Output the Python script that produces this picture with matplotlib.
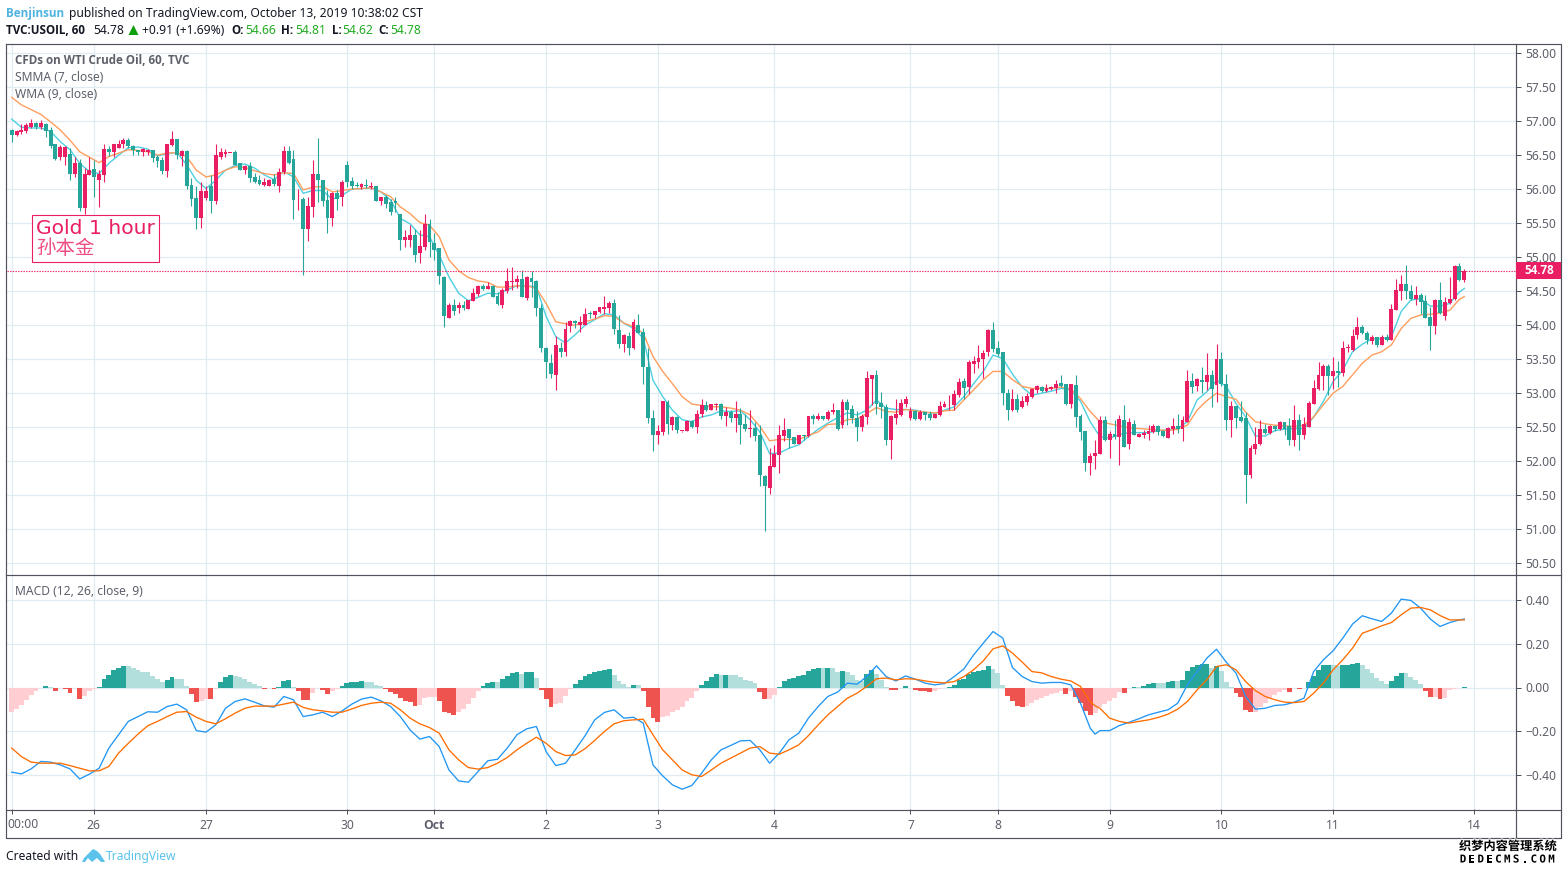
import matplotlib
matplotlib.use("Agg")
import matplotlib.pyplot as plt
import matplotlib.patheffects as pe
from matplotlib.patches import Rectangle, Polygon
import numpy as np

plt.rcParams['font.family'] = ['Noto Sans', 'Noto Sans CJK SC', 'DejaVu Sans']

highs = [56.88,56.86,56.95,56.97,57.02,56.98,57.01,56.96,56.91,56.66,
56.64,56.62,56.59,56.47,56.43,56.30,56.47,56.42,56.27,56.66,
56.63,56.66,56.72,56.74,56.74,56.64,56.57,56.59,56.58,56.56,
56.49,56.47,56.66,56.85,56.73,56.57,56.56,56.15,56.03,56.09,
56.03,56.20,56.65,56.59,56.58,56.52,56.56,56.37,56.34,56.39,
56.23,56.20,56.15,56.14,56.22,56.30,56.62,56.62,56.56,56.00,
55.88,55.88,56.42,56.75,56.13,55.98,55.95,55.98,56.12,56.40,
56.17,56.10,56.08,56.14,56.10,56.04,55.88,55.90,55.84,55.87,
55.63,55.39,55.46,55.41,55.39,55.63,55.55,55.34,55.13,54.71,
54.31,54.38,54.33,54.34,54.36,54.53,54.58,54.60,54.62,54.58,
54.48,54.53,54.83,54.85,54.73,54.80,54.71,54.79,54.65,54.30,
53.67,53.57,53.83,53.74,54.04,54.07,54.06,54.12,54.25,54.20,
54.20,54.25,54.42,54.34,54.38,54.14,53.86,53.89,54.08,54.15,
53.95,53.65,52.75,52.52,52.87,52.89,52.65,52.66,52.43,52.60,
52.59,52.74,52.90,52.87,52.83,52.85,52.84,52.78,52.74,52.87,
52.77,52.68,52.74,52.56,52.52,51.78,52.18,52.23,52.52,52.62,
52.47,52.35,52.38,52.37,52.65,52.69,52.70,52.66,52.74,52.84,
52.74,52.91,52.90,52.82,52.73,52.69,53.32,53.26,53.33,53.01,
52.83,52.67,52.90,52.91,52.95,52.78,52.74,52.74,52.72,52.73,
52.69,52.87,52.88,52.96,53.04,53.22,53.21,53.48,53.54,53.70,
53.63,53.94,54.03,53.76,53.60,53.05,53.05,52.98,52.95,52.99,
53.06,53.11,53.10,53.12,53.10,53.19,53.26,53.13,53.13,53.26,
52.69,52.43,52.11,52.30,52.65,52.65,52.44,52.59,52.67,52.82,
52.62,52.59,52.41,52.45,52.52,52.54,52.52,52.45,52.49,52.63,
52.68,52.65,53.33,53.29,53.21,53.38,53.58,53.33,53.72,53.59,
53.27,52.87,52.80,52.87,52.72,52.23,52.50,52.60,52.54,52.52,
52.52,52.58,52.57,52.62,52.82,52.68,52.64,52.88,53.19,53.45,
53.42,53.42,53.52,53.47,53.76,53.71,53.94,54.11,53.99,53.91,
53.85,53.82,53.85,53.86,54.30,54.67,54.73,54.87,54.58,54.56,
54.47,54.43,54.26,54.37,54.63,54.41,54.70,54.87,54.91,54.81]

body_tops = [56.86,56.85,56.86,56.93,56.97,56.97,56.97,56.95,56.86,56.65,
56.61,56.61,56.50,56.38,56.37,56.21,56.27,56.29,56.21,56.58,
56.58,56.66,56.66,56.71,56.71,56.63,56.56,56.58,56.57,56.56,
56.46,56.42,56.65,56.73,56.73,56.55,56.55,56.05,55.86,55.97,
55.97,56.04,56.49,56.53,56.53,56.52,56.53,56.37,56.33,56.33,
56.17,56.12,56.09,56.13,56.14,56.24,56.55,56.55,56.43,55.85,
55.85,55.74,56.21,56.21,56.13,55.83,55.94,55.94,56.09,56.34,
56.11,56.05,56.06,56.05,56.04,56.04,55.87,55.87,55.80,55.82,
55.63,55.29,55.32,55.32,55.15,55.48,55.48,55.20,55.13,54.70,
54.29,54.28,54.28,54.28,54.36,54.46,54.57,54.57,54.57,54.57,
54.42,54.51,54.64,54.64,54.67,54.67,54.70,54.69,54.64,54.24,
53.66,53.43,53.70,53.66,53.94,54.05,54.05,54.04,54.16,54.17,
54.20,54.25,54.26,54.32,54.32,53.92,53.84,53.83,54.04,54.00,
53.89,53.38,52.63,52.43,52.87,52.86,52.64,52.64,52.43,52.58,
52.58,52.69,52.82,52.82,52.83,52.83,52.83,52.71,52.71,52.69,
52.69,52.54,52.47,52.48,52.37,51.77,51.92,52.10,52.38,52.45,
52.47,52.34,52.37,52.37,52.65,52.65,52.65,52.65,52.72,52.74,
52.74,52.86,52.86,52.76,52.63,52.65,53.21,53.26,53.26,52.85,
52.79,52.65,52.68,52.85,52.90,52.73,52.73,52.71,52.71,52.68,
52.68,52.80,52.83,52.82,52.98,53.15,53.17,53.45,53.46,53.50,
53.58,53.92,53.92,53.65,53.59,53.00,52.90,52.90,52.87,52.95,
53.05,53.09,53.08,53.07,53.08,53.13,53.14,53.13,53.12,53.11,
52.65,52.43,52.07,52.11,52.59,52.60,52.39,52.39,52.61,52.59,
52.57,52.54,52.39,52.40,52.44,52.51,52.51,52.43,52.48,52.51,
52.51,52.59,53.17,53.17,53.20,53.19,53.26,53.26,53.49,53.49,
53.12,52.80,52.80,52.64,52.63,52.19,52.24,52.47,52.47,52.50,
52.51,52.56,52.56,52.50,52.60,52.60,52.54,52.84,53.06,53.26,
53.39,53.39,53.32,53.32,53.65,53.65,53.83,53.96,53.96,53.88,
53.81,53.81,53.81,53.81,54.23,54.51,54.60,54.60,54.50,54.43,
54.43,54.35,54.11,54.36,54.36,54.33,54.38,54.86,54.86,54.78]

body_bottoms = [56.79,56.79,56.83,56.85,56.90,56.90,56.90,56.85,56.62,56.43,
56.46,56.47,56.21,56.21,55.72,55.72,56.20,56.17,56.13,56.20,
56.53,56.54,56.60,56.65,56.62,56.56,56.54,56.54,56.54,56.45,
56.40,56.26,56.26,56.64,56.49,56.48,56.04,55.85,55.57,55.57,
55.86,55.82,55.82,56.47,56.51,56.52,56.35,56.27,56.27,56.16,
56.10,56.06,56.05,56.04,56.06,56.04,56.24,56.37,55.83,55.84,
55.41,55.41,55.73,56.13,55.81,55.57,55.57,55.85,55.88,56.10,
56.04,56.03,56.02,56.03,56.02,55.82,55.82,55.77,55.66,55.78,
55.24,55.24,55.24,55.02,55.05,55.14,55.21,55.10,54.71,54.12,
54.10,54.20,54.24,54.25,54.23,54.35,54.45,54.52,54.52,54.41,
54.30,54.29,54.50,54.63,54.63,54.41,54.39,54.63,54.25,53.66,
53.45,53.27,53.26,53.59,53.59,53.98,54.02,54.00,53.99,54.16,
54.14,54.18,54.23,54.24,53.93,53.72,53.72,53.65,53.65,53.88,
53.38,52.63,52.38,52.38,52.42,52.53,52.52,52.45,52.43,52.44,
52.50,52.50,52.68,52.74,52.74,52.81,52.65,52.65,52.63,52.63,
52.52,52.47,52.46,52.36,51.78,51.63,51.59,51.91,52.08,52.36,
52.33,52.25,52.25,52.36,52.36,52.61,52.61,52.61,52.61,52.71,
52.46,52.52,52.74,52.63,52.49,52.50,52.64,53.20,52.83,52.78,
52.30,52.30,52.63,52.67,52.83,52.62,52.61,52.61,52.67,52.63,
52.62,52.67,52.79,52.81,52.81,52.96,53.07,53.08,53.42,53.45,
53.49,53.59,53.64,53.57,53.00,52.74,52.74,52.74,52.78,52.86,
52.93,53.04,53.02,53.02,53.05,53.06,53.10,52.83,52.83,52.64,
52.42,51.97,51.97,52.06,52.10,52.30,52.30,52.34,52.35,52.20,
52.24,52.38,52.35,52.38,52.39,52.42,52.42,52.36,52.33,52.46,
52.47,52.47,52.57,53.08,53.09,53.15,53.15,53.05,53.11,53.12,
52.59,52.59,52.63,52.58,51.78,51.78,52.17,52.24,52.41,52.41,
52.46,52.46,52.47,52.30,52.30,52.37,52.37,52.50,52.83,53.05,
53.24,53.24,53.24,53.29,53.28,53.65,53.62,53.85,53.87,53.77,
53.76,53.70,53.70,53.77,53.77,54.22,54.49,54.50,54.37,54.37,
54.33,54.10,53.98,53.98,54.17,54.13,54.31,54.37,54.65,54.66]

lows = [56.69,56.77,56.80,56.82,56.89,56.88,56.88,56.76,56.59,56.42,
56.42,56.35,56.13,56.17,55.67,55.63,56.20,55.88,55.73,56.10,
56.48,56.47,56.59,56.59,56.59,56.49,56.49,56.48,56.50,56.39,
56.32,56.21,56.17,56.62,56.44,56.33,56.00,55.74,55.41,55.42,
55.83,55.64,55.77,56.43,56.46,56.52,56.34,56.27,56.22,56.10,
56.08,56.05,56.04,56.03,56.03,55.95,56.22,56.36,55.55,55.68,
54.73,55.23,55.58,55.80,55.74,55.34,55.45,55.68,55.74,56.02,
56.00,56.02,55.99,56.01,56.00,55.82,55.76,55.71,55.61,55.65,
55.10,55.14,55.14,54.92,54.91,55.09,55.00,54.95,54.60,53.96,
54.10,54.14,54.17,54.22,54.23,54.34,54.42,54.51,54.52,54.40,
54.29,54.25,54.47,54.51,54.53,54.40,54.36,54.40,54.12,53.59,
53.21,53.21,53.03,53.52,53.54,53.89,53.95,53.89,53.99,54.10,
54.10,54.17,54.16,54.17,53.86,53.65,53.60,53.55,53.64,53.87,
53.12,52.55,52.14,52.24,52.38,52.39,52.45,52.40,52.42,52.43,
52.48,52.41,52.64,52.73,52.74,52.75,52.61,52.51,52.56,52.42,
52.24,52.43,52.34,52.28,51.63,50.97,51.51,51.91,51.82,52.29,
52.18,52.24,52.25,52.30,52.34,52.54,52.60,52.60,52.60,52.68,
52.45,52.48,52.52,52.55,52.28,52.43,52.54,52.82,52.68,52.63,
52.23,52.02,52.54,52.66,52.79,52.60,52.60,52.60,52.60,52.59,
52.62,52.65,52.78,52.74,52.74,52.94,52.91,52.98,53.28,53.36,
53.21,53.53,53.60,53.53,52.82,52.60,52.73,52.72,52.77,52.82,
52.92,52.99,53.01,53.01,53.03,52.99,53.08,52.82,52.77,52.50,
52.30,51.84,51.79,51.88,52.10,52.29,52.04,52.31,51.93,52.20,
52.17,52.37,52.35,52.33,52.30,52.41,52.37,52.35,52.33,52.39,
52.40,52.29,52.57,52.99,53.02,52.99,53.04,52.79,52.86,53.09,
52.45,52.35,52.48,52.56,51.38,51.74,52.10,52.23,52.39,52.39,
52.44,52.45,52.38,52.23,52.21,52.15,52.32,52.49,52.83,53.04,
53.04,52.96,53.05,53.08,53.24,53.60,53.61,53.79,53.86,53.72,
53.72,53.67,53.70,53.76,53.77,54.21,54.36,54.37,54.36,54.29,
54.15,54.09,53.63,53.86,54.15,54.07,54.30,54.36,54.64,54.62]

# T = falling bar, P = rising bar
direction = ("TPPPPTPTTT" "PPTPTPPTPP" "TPPPTTTPPT" "TTPPTPTTTP" "PTPPPPTTPT"
             "TTPPTPPTTP" "TPPTTTPTPT" "TTPTPTPTTT" "TPPTPPTTTT" "PTPTPPPTPT"
             "TPPPPTPTTT" "TTPTPPTPPT" "PPPPTTPTPT" "TTTPPTPTPP" "TPPTPPTPTP"
             "TTPTTTPPPP" "TTPTPTPTPP" "TPTTTPPPTT" "TPPPPPTPTT" "PPPPPPTPPP"
             "PPTTTTPTPP" "PPTPPPTTPT" "TTPPPTPTPT" "PTPPPPTTPP" "TPPTPTPTPT"
             "TPTTTPPPTP" "TPTTPTPPPP" "PTPTPPPPTT" "PTPTPPPTTP" "TTTPTPPPTP")

ma_idx = [*range(0, 299, 2), 299]
wma_values = [57.02,56.90,56.89,56.89,56.84,56.69,56.57,56.37,56.25,56.22,
56.37,56.49,56.60,56.61,56.58,56.48,56.51,56.53,56.35,56.12,
56.00,56.12,56.27,56.34,56.36,56.30,56.20,56.13,56.25,56.17,
55.93,55.97,55.97,55.84,55.90,55.99,56.00,56.01,55.95,55.83,
55.56,55.48,55.32,55.29,55.02,54.70,54.46,54.35,54.40,54.46,
54.45,54.51,54.57,54.57,54.55,54.12,53.82,53.73,53.85,53.99,
54.07,54.16,54.14,54.02,53.94,53.80,53.18,52.94,52.74,52.60,
52.57,52.64,52.67,52.73,52.72,52.73,52.60,52.42,52.10,52.11,
52.18,52.23,52.35,52.46,52.55,52.63,52.70,52.67,52.74,52.89,
52.77,52.75,52.75,52.74,52.71,52.69,52.74,52.79,52.94,53.13,
53.31,53.55,53.50,53.27,53.08,52.96,52.99,53.02,53.06,53.04,
52.87,52.57,52.35,52.33,52.38,52.41,52.41,52.41,52.44,52.45,
52.47,52.57,52.89,53.01,53.18,53.09,52.84,52.64,52.36,52.36,
52.44,52.46,52.47,52.47,52.64,52.87,53.16,53.33,53.60,53.71,
53.79,53.79,53.82,54.19,54.36,54.38,54.27,54.27,54.31,54.48,54.53]
smma_values = [57.34,57.23,57.16,57.09,56.98,56.86,56.71,56.54,56.46,56.38,
56.47,56.52,56.57,56.56,56.54,56.49,56.52,56.53,56.47,56.27,
56.17,56.20,56.27,56.32,56.31,56.26,56.22,56.20,56.23,56.22,
55.98,56.02,56.03,55.95,55.97,55.99,56.00,56.01,55.95,55.88,
55.73,55.63,55.50,55.46,55.29,54.95,54.79,54.69,54.64,54.62,
54.55,54.55,54.57,54.57,54.53,54.31,54.04,54.01,53.99,54.04,
54.08,54.13,54.12,54.02,53.97,53.87,53.53,53.31,53.13,52.94,
52.83,52.81,52.79,52.79,52.77,52.74,52.67,52.50,52.29,52.31,
52.31,52.31,52.37,52.42,52.53,52.54,52.60,52.61,52.69,52.78,
52.72,52.71,52.75,52.73,52.71,52.70,52.73,52.74,52.89,53.04,
53.19,53.31,53.31,53.19,53.09,53.06,53.06,53.06,53.08,53.05,
52.91,52.72,52.57,52.54,52.51,52.48,52.47,52.46,52.45,52.44,
52.46,52.52,52.74,52.88,52.99,52.94,52.90,52.71,52.57,52.54,
52.52,52.51,52.50,52.52,52.64,52.82,52.99,53.09,53.26,53.43,
53.55,53.60,53.70,53.94,54.09,54.14,54.15,54.17,54.21,54.37,54.41]

hist_values = [-.114,-.098,-.079,-.056,-.034,-.018,-.001,.008,.001,-.015,
-.003,-.008,-.023,-.003,-.052,-.038,-.018,-.005,.003,.040,
.058,.081,.091,.100,.100,.090,.081,.072,.069,.053,
.038,.023,.035,.049,.037,.037,.005,-.029,-.064,-.061,
-.052,-.053,-.006,.027,.049,.058,.053,.046,.041,.027,
.014,.005,-.005,-.003,-.005,.003,.032,.035,.002,-.018,
-.056,-.057,-.024,-.003,-.011,-.029,-.018,-.008,.008,.021,
.026,.027,.030,.026,.026,.012,.005,-.006,-.020,-.030,
-.046,-.062,-.064,-.084,-.079,-.049,-.043,-.043,-.061,-.110,
-.117,-.125,-.110,-.099,-.075,-.047,-.014,.008,.021,.026,
.026,.040,.053,.067,.072,.063,.072,.073,.044,-.011,
-.052,-.088,-.075,-.070,-.037,-.006,.017,.035,.053,.063,
.069,.076,.079,.085,.058,.030,.017,.002,.012,.012,
-.018,-.088,-.139,-.157,-.134,-.130,-.111,-.102,-.088,-.061,
-.047,-.015,.012,.030,.049,.063,.058,.059,.058,.058,
.049,.035,.030,.021,-.020,-.052,-.052,-.034,.003,.030,
.040,.044,.053,.058,.076,.085,.090,.090,.091,.090,
.072,.076,.072,.058,.035,.030,.063,.081,.063,.035,
.002,-.011,-.012,-.002,.008,.000,-.011,-.014,-.015,-.020,
-.015,-.006,-.002,.003,.012,.035,.040,.063,.072,.076,
.081,.099,.085,.067,.012,-.038,-.061,-.084,-.088,-.084,
-.070,-.056,-.047,-.038,-.030,-.024,-.015,-.029,-.015,-.043,
-.070,-.107,-.125,-.116,-.088,-.075,-.061,-.047,-.020,-.024,
-.003,.003,.003,.008,.017,.021,.021,.021,.026,.030,
.030,.035,.076,.095,.104,.108,.109,.090,.099,.076,
.026,.003,-.024,-.043,-.102,-.111,-.111,-.088,-.070,-.052,
-.034,-.020,-.011,-.020,-.004,-.005,-.002,.026,.053,.081,
.104,.105,.104,.099,.104,.105,.108,.113,.104,.085,
.067,.044,.030,.017,.030,.053,.067,.067,.049,.035,
.017,-.014,-.043,-.043,-.052,-.046,-.012,-.006,-.002,.003]

macd_idx = [*range(0, 223, 2), 223, *range(224, 299, 2), 299]
macd_values = [-.387,-.395,-.372,-.338,-.341,-.354,-.372,-.418,-.396,-.369,
-.277,-.216,-.155,-.133,-.111,-.113,-.087,-.076,-.102,-.197,
-.204,-.171,-.095,-.064,-.052,-.067,-.084,-.090,-.041,-.056,
-.133,-.125,-.113,-.133,-.107,-.076,-.053,-.044,-.061,-.087,
-.133,-.194,-.236,-.224,-.270,-.377,-.427,-.433,-.384,-.335,
-.328,-.277,-.216,-.189,-.178,-.293,-.357,-.346,-.285,-.221,
-.148,-.114,-.102,-.140,-.136,-.163,-.354,-.404,-.445,-.465,
-.448,-.392,-.331,-.285,-.265,-.244,-.242,-.285,-.346,-.300,
-.239,-.209,-.140,-.087,-.041,-.021,.020,.015,.050,.099,
.050,.030,.053,.038,.020,.012,.018,.050,.085,.149,
.203,.256,.226,.091,.050,.027,.020,.023,.023,.012,
-.072,-.186,-.213,-.197,-.197,-.174,-.159,-.143,-.125,-.113,-.102,
-.072,.012,.073,.134,.175,.116,.066,-.041,-.099,-.095,
-.082,-.079,-.067,-.049,.073,.127,.168,.226,.290,.328,
.314,.302,.340,.404,.398,.363,.313,.279,.297,.309,.313]
signal_values = [-.277,-.316,-.341,-.346,-.346,-.346,-.357,-.369,-.381,-.381,
-.361,-.300,-.255,-.213,-.175,-.155,-.133,-.113,-.110,-.136,
-.155,-.166,-.143,-.117,-.095,-.085,-.085,-.085,-.076,-.067,
-.091,-.102,-.107,-.113,-.113,-.098,-.082,-.072,-.067,-.072,
-.102,-.140,-.166,-.183,-.209,-.285,-.331,-.366,-.373,-.366,
-.346,-.320,-.285,-.255,-.227,-.255,-.293,-.311,-.308,-.280,
-.242,-.201,-.166,-.152,-.148,-.145,-.216,-.285,-.331,-.377,
-.399,-.407,-.377,-.346,-.323,-.300,-.277,-.270,-.300,-.305,
-.285,-.262,-.220,-.171,-.125,-.087,-.049,-.026,.005,.040,
.043,.035,.040,.038,.030,.024,.021,.027,.050,.081,
.122,.177,.190,.157,.116,.073,.067,.050,.038,.030,
.005,-.064,-.084,-.095,-.140,-.155,-.163,-.155,-.148,-.137,-.122,
-.099,-.064,-.011,.035,.096,.104,.081,.027,-.014,-.041,
-.056,-.067,-.069,-.064,-.026,.020,.081,.127,.180,.248,
.264,.282,.297,.332,.363,.366,.355,.329,.309,.309,.309]

price_ticks = [50.5,51.0,51.5,52.0,52.5,53.0,53.5,54.0,54.5,55.0,55.5,56.0,56.5,57.0,57.5,58.0]
macd_ticks = [-.4,-.2,0.0,.2,.4]
macd_tick_labels = ["\u22120.40","\u22120.20","0.00","0.20","0.40"]
time_tick_pos = [0,16.9,40,69,87,110,133,157,185,203,226,249,272,301]
time_tick_labels = ["","26","27","30","Oct","2","3","4","7","8","9","10","11","14"]
last_price = 54.78

W, H = 1568, 874
TEAL, PINK = "#26A69A", "#E91E63"
GRID, FRAME, LABEL = "#E1ECF2", "#50535E", "#5D606B"
BOLD = dict(family=["Open Sans"], fontweight="bold")

fig = plt.figure(figsize=(W/100, H/100), dpi=100, facecolor="white")

def axes_px(l, t, r, b):
    return fig.add_axes([l/W, 1-b/H, (r-l)/W, (b-t)/H])

L, R, T, D, B = 7, 1516, 44, 574, 809
step = (1464.3-11.7)/299
xlim = ((L-11.7)/step, (R-11.7)/step)

ax = axes_px(L, T, R, D)
axm = axes_px(L, D, R, B)
for a in (ax, axm):
    a.set_xlim(*xlim)
    for s in a.spines.values():
        s.set_visible(False)
    a.set_axisbelow(True)
    a.grid(True, color=GRID, lw=0.9)
    a.yaxis.tick_right()
    a.tick_params(axis='y', length=3.5, width=0.72, color=FRAME, labelcolor=LABEL, labelsize=8.7)

# price pane: 68 pixels per unit, 55.00 at y=256.5
ax.set_ylim(55-(D-256.5)/68, 55+(256.5-T)/68)
ax.set_yticks(price_ticks, [f"{v:.2f}" for v in price_ticks])
ax.tick_params(axis='y', pad=3.5)
ax.set_xticks(time_tick_pos)
ax.tick_params(axis='x', length=0, labelbottom=False)

x = np.arange(len(highs))
is_up = np.array([c == "P" for c in direction])
tops, bots = np.array(body_tops), np.array(body_bottoms)
opens = np.where(is_up, bots, tops)
closes = np.where(is_up, tops, bots)
cols = np.where(is_up, PINK, TEAL)

ax.plot(ma_idx, wma_values, color="#4DD0E1", lw=1.0, zorder=2)
ax.plot(ma_idx, smma_values, color="#FF9E5E", lw=1.0, zorder=2)
ax.vlines(x, lows, highs, colors=list(cols), lw=0.8, zorder=3)
ax.bar(x, np.maximum(np.abs(closes-opens), 0.012), bottom=np.minimum(opens, closes),
       width=0.8, color=list(cols), lw=0, zorder=4)
ax.axhline(last_price, color=PINK, lw=0.8, ls=(0, (1.2, 1.2)), zorder=5)

# MACD pane: 218.75 pixels per unit, 0 at y=687.5
axm.set_ylim(-(B-687.5)/218.75, (687.5-D)/218.75)
axm.set_yticks(macd_ticks, macd_tick_labels)
axm.tick_params(axis='y', pad=3.5)
hist = np.array(hist_values)
prev = np.r_[hist[0], hist[:-1]]
hist_cols = []
for h, p in zip(hist, prev):
    if h >= 0:
        hist_cols.append("#26A69A" if h > p else "#B2DFDB")
    else:
        hist_cols.append("#EF5350" if h < p else "#FFCDD2")
axm.bar(x, hist, width=1.0, color=hist_cols, lw=0, zorder=2, antialiased=False)
axm.plot(macd_idx, macd_values, color="#2196F3", lw=0.95, zorder=3)
axm.plot(macd_idx, signal_values, color="#FF6D00", lw=0.95, zorder=3)
axm.set_xticks(time_tick_pos, time_tick_labels, fontsize=8.7, color=LABEL)
axm.tick_params(axis='x', length=3.5, width=0.72, color=FRAME, pad=3.5)
for lab in axm.get_xticklabels():
    if lab.get_text() == "Oct":
        lab.set(**BOLD)

# chrome in figure pixels
ov = fig.add_axes([0, 0, 1, 1], zorder=10)
ov.set_xlim(0, W)
ov.set_ylim(H, 0)
ov.axis("off")
ov.patch.set_alpha(0)

for xs, ys in [((6.5, 1561.5, 1561.5, 6.5, 6.5), (43.5, 43.5, 837.5, 837.5, 43.5)),
               ((1516, 1516), (43.5, 837.5)),
               ((6.5, 1561.5), (574.5, 574.5)),
               ((6.5, 1516), (809.5, 809.5)),
               ((1516, 1561.5), (809.5, 809.5))]:
    ov.plot(xs, ys, color=FRAME, lw=0.85, solid_capstyle="projecting")

def txt(x_, y_, s, **kw):
    kw.setdefault("fontsize", 8.7)
    kw.setdefault("color", "#131722")
    kw.setdefault("va", "center")
    return ov.text(x_, y_, s, **kw)

txt(6, 13, "Benjinsun", color="#4FB3E2", **BOLD, fontsize=8.4)
txt(69, 13, "published on TradingView.com, October 13, 2019 10:38:02 CST")
txt(6, 30, "TVC:USOIL, 60", fontsize=8.4, **BOLD)
txt(93, 30, "54.78")
ov.add_patch(Polygon([(128.5, 35), (138.5, 35), (133.5, 25)], color="#0E9E0E", lw=0))
txt(142, 30, "+0.91 (+1.69%)")
GREEN = "#22AB22"
for lx, lab, vx, val in [(231, "O:", 245, "54.66"), (281, "H:", 295, "54.81"),
                         (332, "L:", 342, "54.62"), (378, "C:", 390, "54.78")]:
    txt(lx, 30, lab, fontsize=8.4, **BOLD)
    txt(vx, 30, val, color=GREEN)

txt(15, 60.5, "CFDs on WTI Crude Oil, 60, TVC", color=LABEL, fontsize=8.4, **BOLD)
txt(15, 77.5, "SMMA (7, close)", color=LABEL)
txt(15, 94.5, "WMA (9, close)", color=LABEL)
txt(15, 591.5, "MACD (12, 26, close, 9)", color=LABEL)
txt(7, 824.5, "00:00", color=LABEL)

ov.add_patch(Rectangle((1516.5, 262), 45, 17, color=PINK, lw=0, zorder=5))
txt(1539, 270.5, "54.78", color="white", fontsize=8.4, ha="center", zorder=6, **BOLD)

ov.add_patch(Rectangle((32.5, 214.5), 127, 47, fc="white", ec=PINK, lw=0.8))
txt(36, 228, "Gold 1 hour", fontsize=14.6, color=PINK, family=["DejaVu Sans"])
txt(36, 249, "孙本金", fontsize=14, color="#EE4C85", family=["Noto Sans CJK SC"], fontweight="light")

txt(6, 856.5, "Created with", color="#131722")
LOGO = "#5BC3EB"
ov.add_patch(Polygon([(82, 862), (84, 858), (89, 853), (93, 849), (97, 851), (100, 854), (104, 860),
                      (105, 862), (101, 862), (97, 858), (92, 862), (88, 858), (85, 862)],
                     color=LOGO, lw=0))
txt(106, 856.5, "TradingView", color=LOGO)

stroke = [pe.withStroke(linewidth=1.6, foreground="white")]
txt(1508, 846.5, "织梦内容管理系统", fontsize=8.8, color="black", ha="center",
    family=["Noto Sans CJK SC"], fontweight="bold", path_effects=stroke)
for k, ch in enumerate("DEDECMS.COM"):
    txt(1463+k*8.85, 859.5, ch, fontsize=7.8, color="black", ha="center", family=["DejaVu Sans Mono"],
        fontweight="bold", path_effects=stroke)

fig.savefig("out.png", dpi=100, facecolor="white")
